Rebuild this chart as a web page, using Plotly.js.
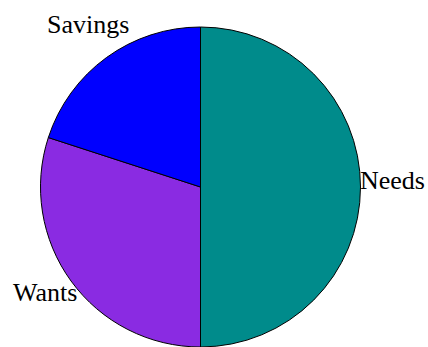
<!DOCTYPE html>
<html><head><meta charset="utf-8">
<script src="https://cdn.plot.ly/plotly-3.0.1.min.js"></script>
<style>html,body{margin:0;padding:0;background:#fff}</style>
</head><body>
<div id="chart" style="width:428px;height:347px"></div>
<script>
const labels = ["Needs", "Wants", "Savings"];
const values = [50, 30, 20];
const colors = ["#008B8B", "#8A2BE2", "#0000FF"];

const W = 428, H = 347;
const margin = {l: 40, r: 67, t: 27, b: 0};
const plotW = W - margin.l - margin.r, plotH = H - margin.t - margin.b;
const R = Math.min(plotW, plotH) / 2;
const labelK = 1.2;

const total = values.reduce((a, b) => a + b, 0);
let cum = 0;
const annotations = labels.map((lab, i) => {
  const mid = (cum + values[i] / 2) / total * 2 * Math.PI; // clockwise from top
  cum += values[i];
  return {
    text: lab, showarrow: false, xref: "paper", yref: "paper",
    x: 0.5 + labelK * R * Math.sin(mid) / plotW,
    y: 0.5 + labelK * R * Math.cos(mid) / plotH,
    xanchor: "center", yanchor: "middle", yshift: 7,
    font: {family: "Liberation Serif, Times New Roman, serif", size: 26, color: "#000"}
  };
});

Plotly.newPlot("chart", [{
  type: "pie",
  labels: labels,
  values: values,
  sort: false,
  direction: "clockwise",
  rotation: 0,
  textinfo: "none",
  marker: {colors: colors, line: {color: "#000", width: 1}},
  hoverinfo: "none"
}], {
  width: W, height: H,
  margin: margin,
  showlegend: false,
  annotations: annotations,
  paper_bgcolor: "#fff",
  plot_bgcolor: "#fff"
}, {displayModeBar: false, staticPlot: true});
</script>
</body></html>
